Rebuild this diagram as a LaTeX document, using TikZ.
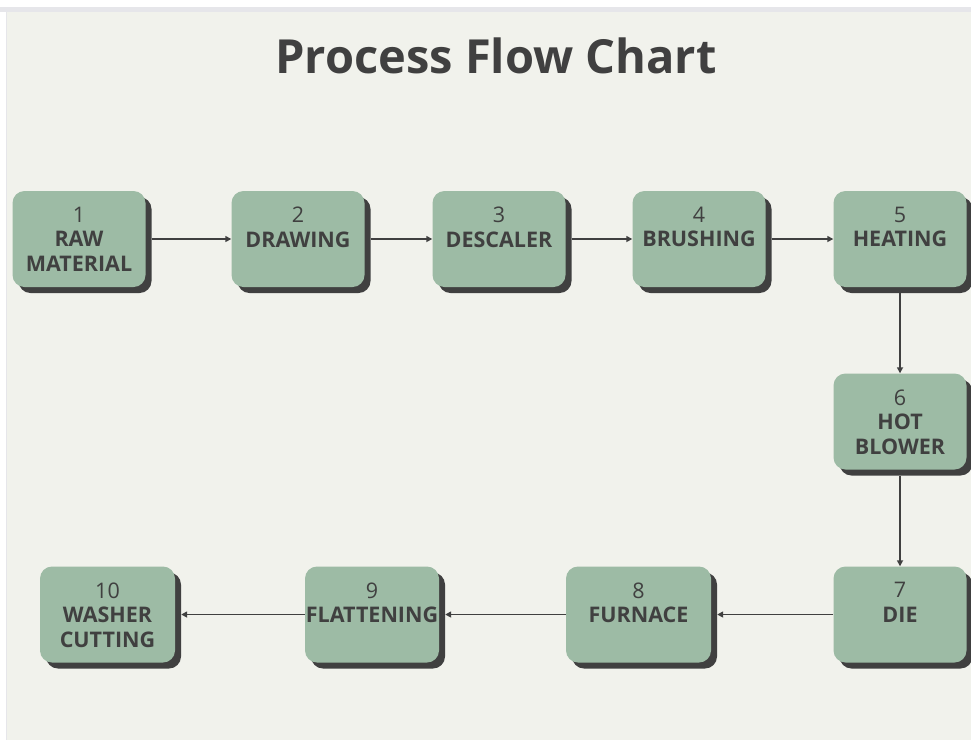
\documentclass[tikz,border=0pt]{standalone}
\usepackage{fontspec}
\setmainfont{Open Sans}
\usetikzlibrary{positioning,shadows,arrows.meta}
\definecolor{sage}{HTML}{9DBBA5}
\definecolor{ink}{HTML}{404040}
\definecolor{paper}{HTML}{F1F2EC}
\definecolor{rim}{HTML}{E6E6EA}
\tikzset{
	stepbox/.style={fill=sage, rounded corners=12pt, minimum width=133pt, minimum height=96pt, inner sep=0pt,
		drop shadow={shadow xshift=6pt, shadow yshift=-6pt, fill=ink, opacity=1}},
	steptext/.style={align=center, text=ink, inner sep=0pt, font=\fontsize{21.5}{24.5}\selectfont},
	flow/.style={draw=ink, line width=1.5pt, -{Triangle[length=6pt, width=6pt]}}
}
\begin{document}
\begin{tikzpicture}[x=1pt, y=-1pt]
	\useasboundingbox [fill=white] (0,0) rectangle (971,740);
	\fill [rim] (0,7) rectangle (971,12);
	\fill [paper] (6,12) rectangle (971,740);
	\draw [rim] (6,12)--(6,740);
	\node [anchor=base, text=ink, font=\fontsize{47}{52}\selectfont\bfseries] (title) at(496,73) {Process Flow Chart};
	\node [stepbox] (b1) at(79,239) {};
	\node [stepbox] (b2) at(298,239) {};
	\node [stepbox] (b3) at(499,239) {};
	\node [stepbox] (b4) at(699,239) {};
	\node [stepbox] (b5) at(900,239) {};
	\node [stepbox] (b6) at(900,421.5) {};
	\node [stepbox] (b7) at(900,614.5) {};
	\node [stepbox, minimum width=145pt] (b8) at(638.5,614.5) {};
	\node [stepbox, minimum width=134pt] (b9) at(372,614.5) {};
	\node [stepbox, minimum width=135pt] (b10) at(107.5,614.5) {};
	\node [steptext, below=16pt of b1.north] (t1) {1\\\textbf{RAW}\\\textbf{MATERIAL}};
	\node [steptext, below=16pt of b2.north] (t2) {2\\\textbf{DRAWING}};
	\node [steptext, below=16pt of b3.north] (t3) {3\\\textbf{DESCALER}};
	\node [steptext, below=16pt of b4.north] (t4) {4\\\textbf{BRUSHING}};
	\node [steptext, below=16pt of b5.north] (t5) {5\\\textbf{HEATING}};
	\node [steptext, below=16pt of b6.north] (t6) {6\\\textbf{HOT}\\\textbf{BLOWER}};
	\node [steptext, below=16pt of b7.north] (t7) {7\\\textbf{DIE}};
	\node [steptext, below=16pt of b8.north] (t8) {8\\\textbf{FURNACE}};
	\node [steptext, below=16pt of b9.north] (t9) {9\\\textbf{FLATTENING}};
	\node [steptext, below=16pt of b10.north] (t10) {10\\\textbf{WASHER}\\\textbf{CUTTING}};
	\draw [flow] ([xshift=6pt]b1.east)--(b2.west);
	\draw [flow] ([xshift=6pt]b2.east)--(b3.west);
	\draw [flow] ([xshift=6pt]b3.east)--(b4.west);
	\draw [flow] ([xshift=6pt]b4.east)--(b5.west);
	\draw [flow] ([yshift=-6pt]b5.south)--(b6.north);
	\draw [flow] ([yshift=-6pt]b6.south)--(b7.north);
	\draw [flow] (b7.west)--([xshift=6pt]b8.east);
	\draw [flow] (b8.west)--([xshift=6pt]b9.east);
	\draw [flow] (b9.west)--([xshift=6pt]b10.east);
\end{tikzpicture}
\end{document}
